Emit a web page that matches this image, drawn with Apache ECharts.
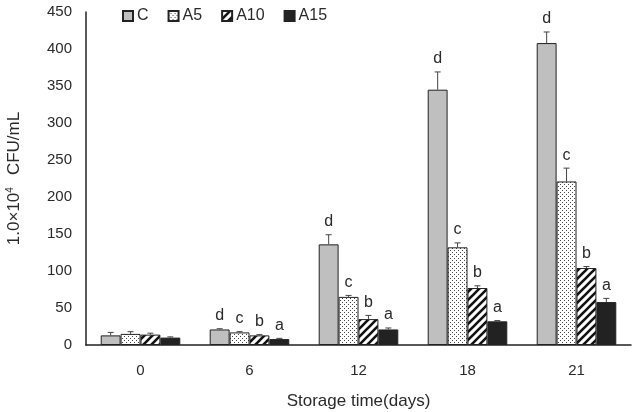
<!DOCTYPE html>
<html>
<head>
<meta charset="utf-8">
<script src="https://cdn.jsdelivr.net/npm/echarts@6/dist/echarts.min.js"></script>
<style>
  html, body { margin: 0; padding: 0; background: #fff; }
  #chart { width: 633px; height: 412px; }
</style>
</head>
<body>
<div id="chart"></div>
<script>
// data
const days = ['0', '6', '12', '18', '21']
const seriesNames = ['C', 'A5', 'A10', 'A15']
const valC = [13, 21, 136, 345, 408]
const valA5 = [15, 17, 65, 132, 221]
const valA10 = [14, 13, 35, 77, 104]
const valA15 = [10, 8, 21, 32, 58]
const errC = [4, 1, 13, 24, 15]
const errA5 = [3, 1, 2, 6, 18]
const errA10 = [2, 1, 5, 3, 2]
const errA15 = [1, 1, 2, 1, 5]
const lettersC = ['', 'd', 'd', 'd', 'd']
const lettersA5 = ['', 'c', 'c', 'c', 'c']
const lettersA10 = ['', 'b', 'b', 'b', 'b']
const lettersA15 = ['', 'a', 'a', 'a', 'a']

const values = [valC, valA5, valA10, valA15]
const errors = [errC, errA5, errA10, errA15]
const letters = [lettersC, lettersA5, lettersA10, lettersA15]

const FONT = 'Liberation Sans, Arial, sans-serif'
const TXT = '#2a2a2a'
const gapPct = 27

// fill patterns
function dotPattern() {
  const c = document.createElement('canvas')
  c.width = 4; c.height = 4
  const g = c.getContext('2d')
  g.fillStyle = '#fff'; g.fillRect(0, 0, 4, 4)
  g.fillStyle = '#444'
  g.fillRect(0, 0, 1, 1)
  g.fillRect(2, 2, 1, 1)
  return { image: c, repeat: 'repeat' }
}
function stripePattern() {
  const c = document.createElement('canvas')
  c.width = 8; c.height = 8
  const g = c.getContext('2d')
  g.fillStyle = '#fff'; g.fillRect(0, 0, 8, 8)
  g.strokeStyle = '#111'; g.lineWidth = 2.6
  g.beginPath()
  g.moveTo(-2, 10); g.lineTo(10, -2)
  g.moveTo(-2, 2); g.lineTo(2, -2)
  g.moveTo(6, 10); g.lineTo(10, 6)
  g.stroke()
  return { image: c, repeat: 'repeat' }
}

const fills = ['#bfbfbf', dotPattern(), stripePattern(), '#222']

const barSeries = seriesNames.map((name, i) => ({
  name,
  type: 'bar',
  data: values[i],
  barGap: '0%',
  barCategoryGap: gapPct + '%',
  itemStyle: { color: fills[i], borderColor: '#222', borderWidth: 1 },
}))

// error bars + letters drawn on top of each bar
const errSeries = seriesNames.map((name, i) => ({
  type: 'custom',
  name: name + '-err',
  z: 5,
  silent: true,
  data: values[i].map((v, k) => [k, v, errors[i][k]]),
  renderItem(params, api) {
    const k = api.value(0)
    const v = api.value(1)
    const e = api.value(2)
    const band = api.size([1, 0])[0]
    const bw = band * (1 - gapPct / 100) / 4
    const off = (i - 1.5) * bw
    const base = api.coord([k, v])
    const top = api.coord([k, v + e])
    const x = base[0] + off
    const cap = 3
    const children = [
      { type: 'line', shape: { x1: x, y1: base[1], x2: x, y2: top[1] }, style: { stroke: '#444', lineWidth: 1 } },
      { type: 'line', shape: { x1: x - cap, y1: top[1], x2: x + cap, y2: top[1] }, style: { stroke: '#444', lineWidth: 1 } },
    ]
    const t = letters[i][k]
    if (t) {
      children.push({
        type: 'text',
        style: { text: t, x: x, y: top[1] - 5, align: 'center', verticalAlign: 'bottom', fill: TXT, font: '16px ' + FONT },
      })
    }
    return { type: 'group', children }
  },
}))

const chart = echarts.init(document.getElementById('chart'))
chart.setOption({
  animation: false,
  textStyle: { fontFamily: FONT },
  legend: {
    data: seriesNames,
    top: 3,
    left: 117,
    icon: 'rect',
    itemWidth: 10,
    itemHeight: 10,
    itemGap: 19,
    textStyle: { fontSize: 16, color: TXT, padding: [0, 0, 0, -1] },
  },
  grid: { left: 86, right: 2, top: 12, bottom: 67, outerBoundsMode: 'none' },
  xAxis: {
    type: 'category',
    data: days,
    name: 'Storage time(days)',
    nameLocation: 'middle',
    nameGap: 48,
    nameTextStyle: { fontSize: 17, color: TXT },
    axisLine: { lineStyle: { color: '#222', width: 1.5 } },
    axisTick: { show: false },
    axisLabel: { fontSize: 15, color: TXT, margin: 18 },
  },
  yAxis: {
    type: 'value',
    min: 0,
    max: 450,
    interval: 50,
    name: '1.0×10{sup|4}{gap|}CFU/mL',
    nameLocation: 'middle',
    nameGap: 62,
    nameTextStyle: {
      fontSize: 17,
      color: TXT,
      rich: {
        sup: { fontSize: 10, verticalAlign: 'top', padding: [0, 0, 9, 0], color: TXT },
        gap: { width: 12 },
      },
    },
    axisLine: { show: true, lineStyle: { color: '#222', width: 1.5 } },
    axisTick: { show: false },
    splitLine: { show: false },
    axisLabel: { fontSize: 15, color: TXT, margin: 14 },
  },
  series: [...barSeries, ...errSeries],
})
</script>
</body>
</html>
